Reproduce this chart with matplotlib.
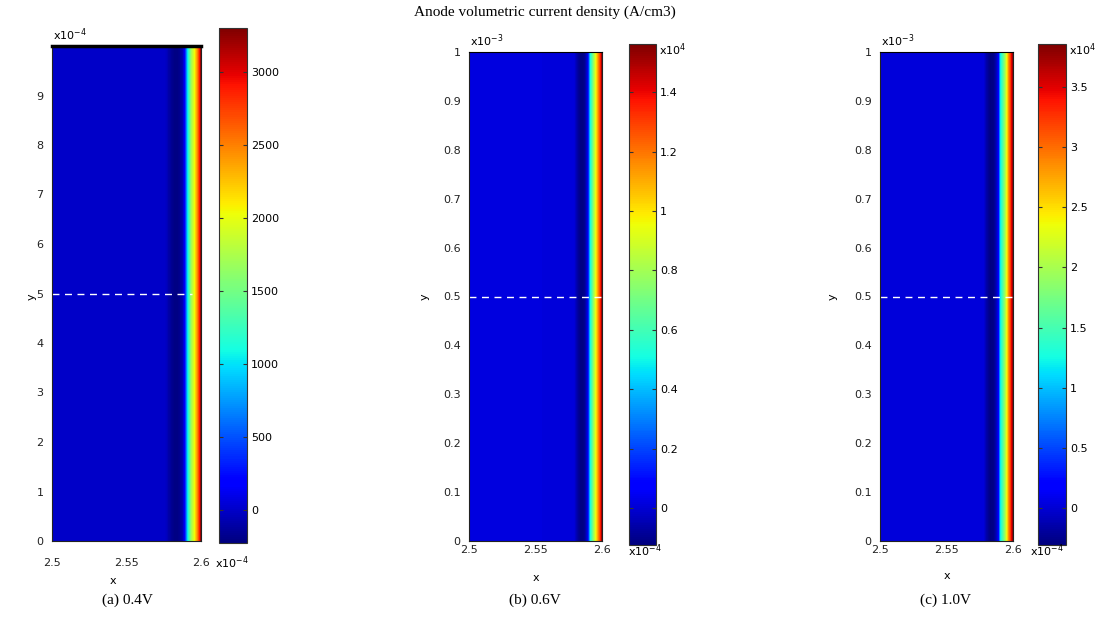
import numpy as np
import matplotlib
matplotlib.use("Agg")
import matplotlib.pyplot as plt
from matplotlib import colors, cm

W, H = 1112, 617
fig = plt.figure(figsize=(W / 100, H / 100), dpi=100)
plt.rcParams["font.family"] = "DejaVu Sans"


def rect(l, t, r, b):
    return [l / W, 1 - b / H, (r - l) / W, (b - t) / H]


# Position across the anode (units of 1e-4) and volumetric current density (A/cm3)
x_04 = [2.5, 2.576, 2.579, 2.582, 2.585, 2.5875, 2.589, 2.591, 2.5935, 2.5955, 2.5975, 2.599, 2.6]
j_04 = [5, 0, -120, -210, -200, -80, 160, 1040, 1700, 2000, 2450, 2900, 3300]

x_06 = [2.5, 2.579, 2.5815, 2.584, 2.5865, 2.588, 2.5895, 2.591, 2.593, 2.595, 2.597, 2.5985, 2.6]
j_06 = [200, 150, -700, -1200, -1100, -400, 600, 4800, 7000, 9200, 11400, 13000, 15600]

x_10 = [2.5, 2.578, 2.5805, 2.583, 2.5855, 2.5875, 2.589, 2.5905, 2.593, 2.595, 2.5965, 2.598, 2.6]
j_10 = [300, 200, -1800, -3000, -2700, -800, 1500, 11900, 17000, 22700, 28000, 32000, 38600]

# Colour limits of each map
clim_04 = (-226, 3300)
clim_06 = (-1245, 15620)
clim_10 = (-3080, 38580)

# Colorbar ticks and their labels
cb_ticks_04 = [0, 500, 1000, 1500, 2000, 2500, 3000]
cb_labels_04 = ["0", "500", "1000", "1500", "2000", "2500", "3000"]
cb_ticks_06 = [0, 2000, 4000, 6000, 8000, 10000, 12000, 14000]
cb_labels_06 = ["0", "0.2", "0.4", "0.6", "0.8", "1", "1.2", "1.4"]
cb_ticks_10 = [0, 5000, 10000, 15000, 20000, 25000, 30000, 35000]
cb_labels_10 = ["0", "0.5", "1", "1.5", "2", "2.5", "3", "3.5"]

x_ticks = [2.5, 2.55, 2.6]
x_tick_labels = ["2.5", "2.55", "2.6"]
y_ticks_a = [0, 1, 2, 3, 4, 5, 6, 7, 8, 9]
y_ticks_bc = [0, 0.1, 0.2, 0.3, 0.4, 0.5, 0.6, 0.7, 0.8, 0.9, 1]

captions = ["(a) 0.4V", "(b) 0.6V", "(c) 1.0V"]

panels = [
    dict(x=x_04, j=j_04, clim=clim_04, cbt=cb_ticks_04, cbl=cb_labels_04,
         ax=(52, 46, 201, 541), cb=(219, 28, 247, 543), ymax=10, yt=y_ticks_a,
         ylbl=[str(v) for v in y_ticks_a], yexp="-4", cbexp=None,
         dash_end=2.594, xpad=12, topw=2.5, xlab_y=581, ylab_x=32, cap_x=127),
    dict(x=x_06, j=j_06, clim=clim_06, cbt=cb_ticks_06, cbl=cb_labels_06,
         ax=(469, 52, 602, 541), cb=(629, 44, 656, 545), ymax=1, yt=y_ticks_bc,
         ylbl=["0", "0.1", "0.2", "0.3", "0.4", "0.5", "0.6", "0.7", "0.8", "0.9", "1"],
         yexp="-3", cbexp="4", dash_end=2.6, xpad=3, topw=0.8, xlab_y=578, ylab_x=425,
         cap_x=535),
    dict(x=x_10, j=j_10, clim=clim_10, cbt=cb_ticks_10, cbl=cb_labels_10,
         ax=(880, 52, 1013, 541), cb=(1038, 44, 1066, 545), ymax=1, yt=y_ticks_bc,
         ylbl=["0", "0.1", "0.2", "0.3", "0.4", "0.5", "0.6", "0.7", "0.8", "0.9", "1"],
         yexp="-3", cbexp="4", dash_end=2.6, xpad=3, topw=0.8, xlab_y=576, ylab_x=833,
         cap_x=945),
]

fs = 8
for i, p in enumerate(panels):
    l, t, r, b = p["ax"]
    ax = fig.add_axes(rect(l, t, r, b))
    vmin, vmax = p["clim"]
    X, Y = np.meshgrid(p["x"], [0, p["ymax"]])
    Z = np.vstack([p["j"], p["j"]])
    levels = np.linspace(vmin, vmax, 300)
    ax.contourf(X, Y, Z, levels=levels, cmap="jet", vmin=vmin, vmax=vmax,
                antialiased=False)
    ax.set_xlim(2.5, 2.6)
    ax.set_ylim(0, p["ymax"])
    ax.set_xticks(x_ticks)
    ax.set_xticklabels(x_tick_labels)
    ax.set_yticks(p["yt"])
    ax.set_yticklabels(p["ylbl"])
    ax.tick_params(direction="in", length=0, labelsize=fs, colors="#222222")
    ax.tick_params(axis="x", pad=p["xpad"])
    ax.tick_params(axis="y", pad=6)
    for s in ax.spines.values():
        s.set_linewidth(0.8)
        s.set_color("#222222")
    ax.spines["top"].set_linewidth(p["topw"])
    ax.spines["top"].set_color("black")

    # dashed reference line at mid-height
    ax.plot([2.5, p["dash_end"]], [p["ymax"] / 2] * 2, color="white", lw=1,
            dashes=(5, 4))

    # axis labels and exponent markers
    fig.text((l + r) / 2 / W if i else 113 / W, 1 - p["xlab_y"] / H, "x",
             ha="center", va="center", fontsize=fs)
    fig.text(p["ylab_x"] / W, 1 - 297 / H, "y", ha="center", va="center",
             fontsize=fs, rotation=90)
    fig.text((l + 1) / W, 1 - (t - 3) / H, "x10$^{%s}$" % p["yexp"],
             ha="left", va="bottom", fontsize=fs)

    # colorbar
    cl, ct, cr, cbm = p["cb"]
    cax = fig.add_axes(rect(cl, ct, cr, cbm))
    sm = cm.ScalarMappable(norm=colors.Normalize(vmin, vmax), cmap="jet")
    cbar = fig.colorbar(sm, cax=cax)
    cbar.set_ticks(p["cbt"])
    cbar.set_ticklabels(p["cbl"])
    cax.tick_params(direction="in", left=True, right=True, length=3, width=0.8,
                    color="#333333", labelsize=fs, pad=3)
    cbar.outline.set_linewidth(0.8)
    cbar.outline.set_edgecolor("#333333")
    if p["cbexp"]:
        fig.text((cr + 3) / W, 1 - (ct + 14) / H, "x10$^{%s}$" % p["cbexp"],
                 ha="left", va="bottom", fontsize=fs)

    # x-axis exponent marker
    xe_y = 563 if i == 0 else 551
    xe_x = 215 if i == 0 else (628 if i == 1 else 1030)
    fig.text(xe_x / W, 1 - xe_y / H, "x10$^{-4}$", ha="left", va="center",
             fontsize=fs)

    fig.text(p["cap_x"] / W, 1 - 600 / H, captions[i], ha="center", va="center",
             fontsize=11, family="Liberation Serif")

fig.text(545 / W, 1 - 12 / H, "Anode volumetric current density (A/cm3)",
         ha="center", va="center", fontsize=11, family="Liberation Serif")

fig.savefig("out.png", dpi=100)
